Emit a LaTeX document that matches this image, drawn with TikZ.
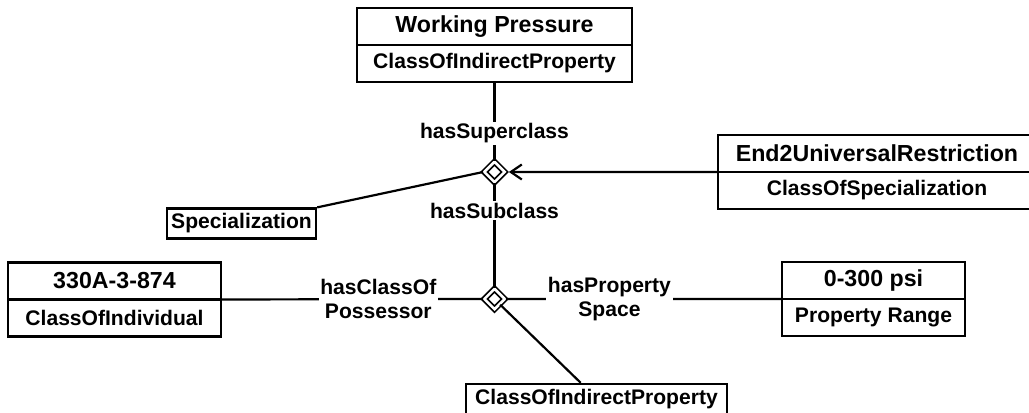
\documentclass[tikz,border=0pt]{standalone}
\usepackage{fontspec}
\setmainfont{Liberation Sans}
\usetikzlibrary{arrows.meta, positioning, shapes.geometric, calc}

\begin{document}
\begin{tikzpicture}[
    headbox/.style={draw, line width=1.35pt, inner sep=0pt, outer sep=0pt, minimum height=0.74cm,
      font=\fontsize{13.2}{15}\selectfont\bfseries},
    typebox/.style={draw, line width=1.35pt, inner sep=0pt, outer sep=0pt, minimum height=0.74cm,
      font=\fontsize{12}{14}\selectfont\bfseries},
    leafbox/.style={draw, line width=1.35pt, inner sep=0pt, minimum height=0.6cm,
      font=\fontsize{12}{14}\selectfont\bfseries},
    rel/.style={diamond, draw, double, double distance=1.5pt, line width=1pt,
      inner sep=0pt, minimum size=0.42cm},
    link/.style={line width=1.25pt},
    lbl/.style={fill=white, inner sep=1pt, align=center,
      font=\fontsize{12}{13.6}\selectfont\bfseries}
  ]
  \useasboundingbox (0,0) rectangle (20.58,8.26);
  % classes
  \node[headbox, minimum width=5.5cm] (wp) at (9.89,7.73) {Working Pressure};
  \node[typebox, minimum width=5.5cm, below=0pt of wp] (wpt) {ClassOfIndirectProperty};
  \node[headbox, minimum width=6.36cm] (e2u) at (17.54,5.19) {End2UniversalRestriction};
  \node[typebox, minimum width=6.36cm, below=0pt of e2u] (e2ut) {ClassOfSpecialization};
  \node[headbox, minimum width=4.26cm] (ind) at (2.29,2.64) {330A-3-874};
  \node[typebox, minimum width=4.26cm, below=0pt of ind] (indt) {ClassOfIndividual};
  \node[headbox, minimum width=3.66cm] (rng) at (17.47,2.65) {0-300 psi};
  \node[typebox, minimum width=3.66cm, below=0pt of rng] (rngt) {Property Range};
  \node[leafbox, minimum width=2.98cm] (spec) at (4.83,3.79) {Specialization};
  \node[leafbox, minimum width=5.22cm] (cip) at (11.93,0.28) {ClassOfIndirectProperty};
  % relationships
  \node[rel] (d1) at (9.89,4.82) {};
  \node[rel] (d2) at (9.89,2.28) {};
  \draw[link] (wpt.south) -- node[lbl, pos=0.65] (sup) {hasSuperclass} (d1.north);
  \draw[link] (d1.south) -- node[lbl, pos=0.26] (sub) {hasSubclass} (d2.north);
  \draw[link] (spec) -- (d1.west);
  \draw[link, -{Straight Barb[length=0.22cm, width=0.3cm]}, shorten >=0.06cm]
    (e2u.south west) -- (d1.east);
  \draw[link] (ind.south east) -- node[lbl, pos=0.6] (poss) {hasClassOf\\Possessor} (d2.west);
  \draw[link] (d2.east) -- node[lbl, pos=0.375] (space) {hasProperty\\Space} (rng.south west);
  \draw[link] (d2.south east) -- ($(cip.north west)!0.44!(cip.north east)$);
\end{tikzpicture}
\end{document}
